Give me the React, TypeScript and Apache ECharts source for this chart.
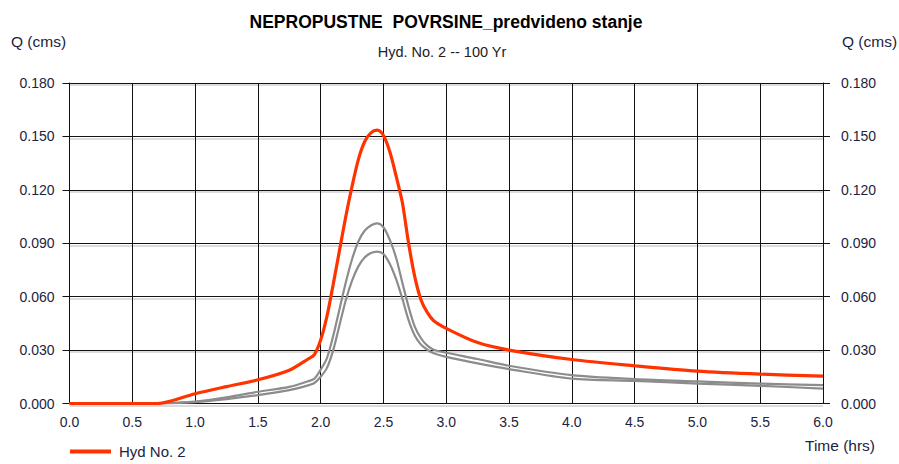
import React, { useEffect, useRef } from "react";
import * as echarts from "echarts";

const titleText = "NEPROPUSTNE  POVRSINE_predvideno stanje";
const subtitleText = "Hyd. No. 2 -- 100 Yr";
const yAxisName = "Q (cms)";
const xAxisName = "Time (hrs)";

const timeHrs = [
  0, 0.5, 0.7, 1.0, 1.25, 1.5, 1.75, 1.9, 1.95, 2.0, 2.05, 2.1, 2.15, 2.2, 2.25,
  2.3, 2.35, 2.4, 2.45, 2.5, 2.55, 2.6, 2.65, 2.7, 2.75, 2.8, 2.85, 2.9, 3.0,
  3.25, 3.5, 4.0, 4.5, 5.0, 5.5, 6.0,
];

const hyd2 = [
  0, 0, 0, 0.0055, 0.0095, 0.0133, 0.0187, 0.025, 0.0275, 0.0356, 0.049, 0.067,
  0.086, 0.105, 0.122, 0.137, 0.147, 0.152, 0.1535, 0.1505, 0.1415, 0.128,
  0.113, 0.09, 0.071, 0.058, 0.051, 0.0465, 0.0422, 0.0342, 0.03, 0.0247,
  0.0212, 0.0182, 0.0165, 0.0154,
];

const grayUpper = [
  0, 0, 0, 0.001, 0.0035, 0.0066, 0.0093, 0.0125, 0.014, 0.019, 0.0255, 0.038,
  0.053, 0.068, 0.081, 0.091, 0.097, 0.1, 0.1012, 0.099, 0.092, 0.082, 0.068,
  0.0543, 0.043, 0.0365, 0.0325, 0.0302, 0.0285, 0.025, 0.0212, 0.0159, 0.0137,
  0.0124, 0.0112, 0.0103,
];

const grayLower = [
  0, 0, 0, 0.0008, 0.0025, 0.0047, 0.0075, 0.0102, 0.0115, 0.015, 0.02, 0.03,
  0.044, 0.058, 0.069, 0.077, 0.082, 0.0845, 0.0853, 0.084, 0.0785, 0.07, 0.059,
  0.0468, 0.038, 0.033, 0.0302, 0.0282, 0.0262, 0.0225, 0.0193, 0.014, 0.0127,
  0.0112, 0.0099, 0.0084,
];

const X_MIN = 0;
const X_MAX = 6;
const X_STEP = 0.5;
const Y_MIN = 0;
const Y_MAX = 0.18;
const Y_STEP = 0.03;

const pairs = (vals: number[]) => timeHrs.map((t, i) => [t, vals[i]]);

export default function App() {
  const ref = useRef<HTMLDivElement>(null);
  useEffect(() => {
    if (!ref.current) return;
    const chart = echarts.init(ref.current, undefined, { renderer: "svg" });
    const font = "'Liberation Sans', Arial, sans-serif";
    const labelColor = "#1c2340";
    const gridTop = 83;
    const gridBottom = 60.5;
    const gridLeft = 69.5;
    const gridRight = 76;
    chart.setOption({
      animation: false,
      backgroundColor: "#ffffff",
      textStyle: { fontFamily: font },
      grid: [
        { left: gridLeft, right: gridRight, top: gridTop + 2, bottom: gridBottom - 2 },
        { left: gridLeft, right: gridRight, top: gridTop, bottom: gridBottom },
      ],
      legend: {
        data: ["Hyd No. 2"],
        left: 68,
        top: 442,
        padding: 2,
        icon: "rect",
        itemWidth: 41,
        itemHeight: 4,
        textStyle: { fontSize: 15, color: labelColor, fontFamily: font, padding: [0, 0, 0, 3] },
      },
      xAxis: [
        {
          gridIndex: 0,
          type: "value",
          min: X_MIN,
          max: X_MAX,
          interval: X_STEP,
          axisLine: { show: false },
          axisTick: { show: false },
          axisLabel: { show: false },
          splitLine: { show: false },
        },
        {
          gridIndex: 1,
          type: "value",
          min: X_MIN,
          max: X_MAX,
          interval: X_STEP,
          axisLine: { show: true, onZero: false, lineStyle: { color: "#111", width: 1 } },
          axisTick: { show: false },
          axisLabel: {
            show: true,
            fontSize: 14,
            color: labelColor,
            margin: 11,
            formatter: (v: number) => v.toFixed(1),
          },
          splitLine: { show: true, lineStyle: { color: "#111", width: 1 } },
        },
      ],
      yAxis: [
        {
          gridIndex: 0,
          type: "value",
          min: Y_MIN,
          max: Y_MAX,
          interval: Y_STEP,
          axisLine: { show: false },
          axisTick: { show: false },
          axisLabel: { show: false },
          splitLine: { show: true, lineStyle: { color: "#dcdcdc", width: 2 } },
        },
        {
          gridIndex: 1,
          type: "value",
          position: "left",
          min: Y_MIN,
          max: Y_MAX,
          interval: Y_STEP,
          axisLine: { show: true, lineStyle: { color: "#111", width: 1 } },
          axisTick: { show: true, length: 7, lineStyle: { color: "#111" } },
          axisLabel: {
            fontSize: 14,
            color: labelColor,
            margin: 15,
            formatter: (v: number) => v.toFixed(3),
          },
          splitLine: { show: true, lineStyle: { color: "#111", width: 1 } },
        },
        {
          gridIndex: 1,
          type: "value",
          position: "right",
          min: Y_MIN,
          max: Y_MAX,
          interval: Y_STEP,
          axisLine: { show: true, lineStyle: { color: "#111", width: 1 } },
          axisTick: { show: true, length: 7, lineStyle: { color: "#111" } },
          axisLabel: {
            fontSize: 14,
            color: labelColor,
            margin: 18,
            formatter: (v: number) => v.toFixed(3),
          },
          splitLine: { show: false },
        },
      ],
      series: [
        {
          name: "Hyd No. 1",
          type: "line",
          xAxisIndex: 1,
          yAxisIndex: 1,
          data: pairs(grayUpper),
          showSymbol: false,
          smooth: 0.3,
          silent: true,
          lineStyle: { color: "#8c8c8c", width: 2.2 },
          itemStyle: { color: "#8c8c8c" },
          z: 3,
        },
        {
          name: "Hyd No. 3",
          type: "line",
          xAxisIndex: 1,
          yAxisIndex: 1,
          data: pairs(grayLower),
          showSymbol: false,
          smooth: 0.3,
          silent: true,
          lineStyle: { color: "#8c8c8c", width: 2.2 },
          itemStyle: { color: "#8c8c8c" },
          z: 3,
        },
        {
          name: "Hyd No. 2",
          type: "line",
          xAxisIndex: 1,
          yAxisIndex: 1,
          data: pairs(hyd2),
          showSymbol: false,
          smooth: 0.3,
          silent: true,
          lineStyle: { color: "#ff3300", width: 3.2 },
          itemStyle: { color: "#ff3300" },
          z: 4,
        },
      ],
      graphic: [
        {
          type: "text",
          x: 446,
          y: 22,
          style: {
            text: titleText,
            font: `bold 17.5px ${font}`,
            fill: "#000",
            textAlign: "center",
            textVerticalAlign: "middle",
          },
        },
        {
          type: "text",
          x: 442,
          y: 52,
          style: {
            text: subtitleText,
            font: `14.5px ${font}`,
            fill: "#222",
            textAlign: "center",
            textVerticalAlign: "middle",
          },
        },
        {
          type: "text",
          x: 11,
          y: 41,
          style: {
            text: yAxisName,
            font: `15.5px ${font}`,
            fill: labelColor,
            textAlign: "left",
            textVerticalAlign: "middle",
          },
        },
        {
          type: "text",
          x: 842,
          y: 41,
          style: {
            text: yAxisName,
            font: `15.5px ${font}`,
            fill: labelColor,
            textAlign: "left",
            textVerticalAlign: "middle",
          },
        },
        {
          type: "text",
          x: 805,
          y: 445,
          style: {
            text: xAxisName,
            font: `15.5px ${font}`,
            fill: labelColor,
            textAlign: "left",
            textVerticalAlign: "middle",
          },
        },
      ],
    });
    return () => chart.dispose();
  }, []);
  return (
    <div
      ref={ref}
      style={{ position: "fixed", left: 0, top: 0, width: 899, height: 464, background: "#fff" }}
    />
  );
}
